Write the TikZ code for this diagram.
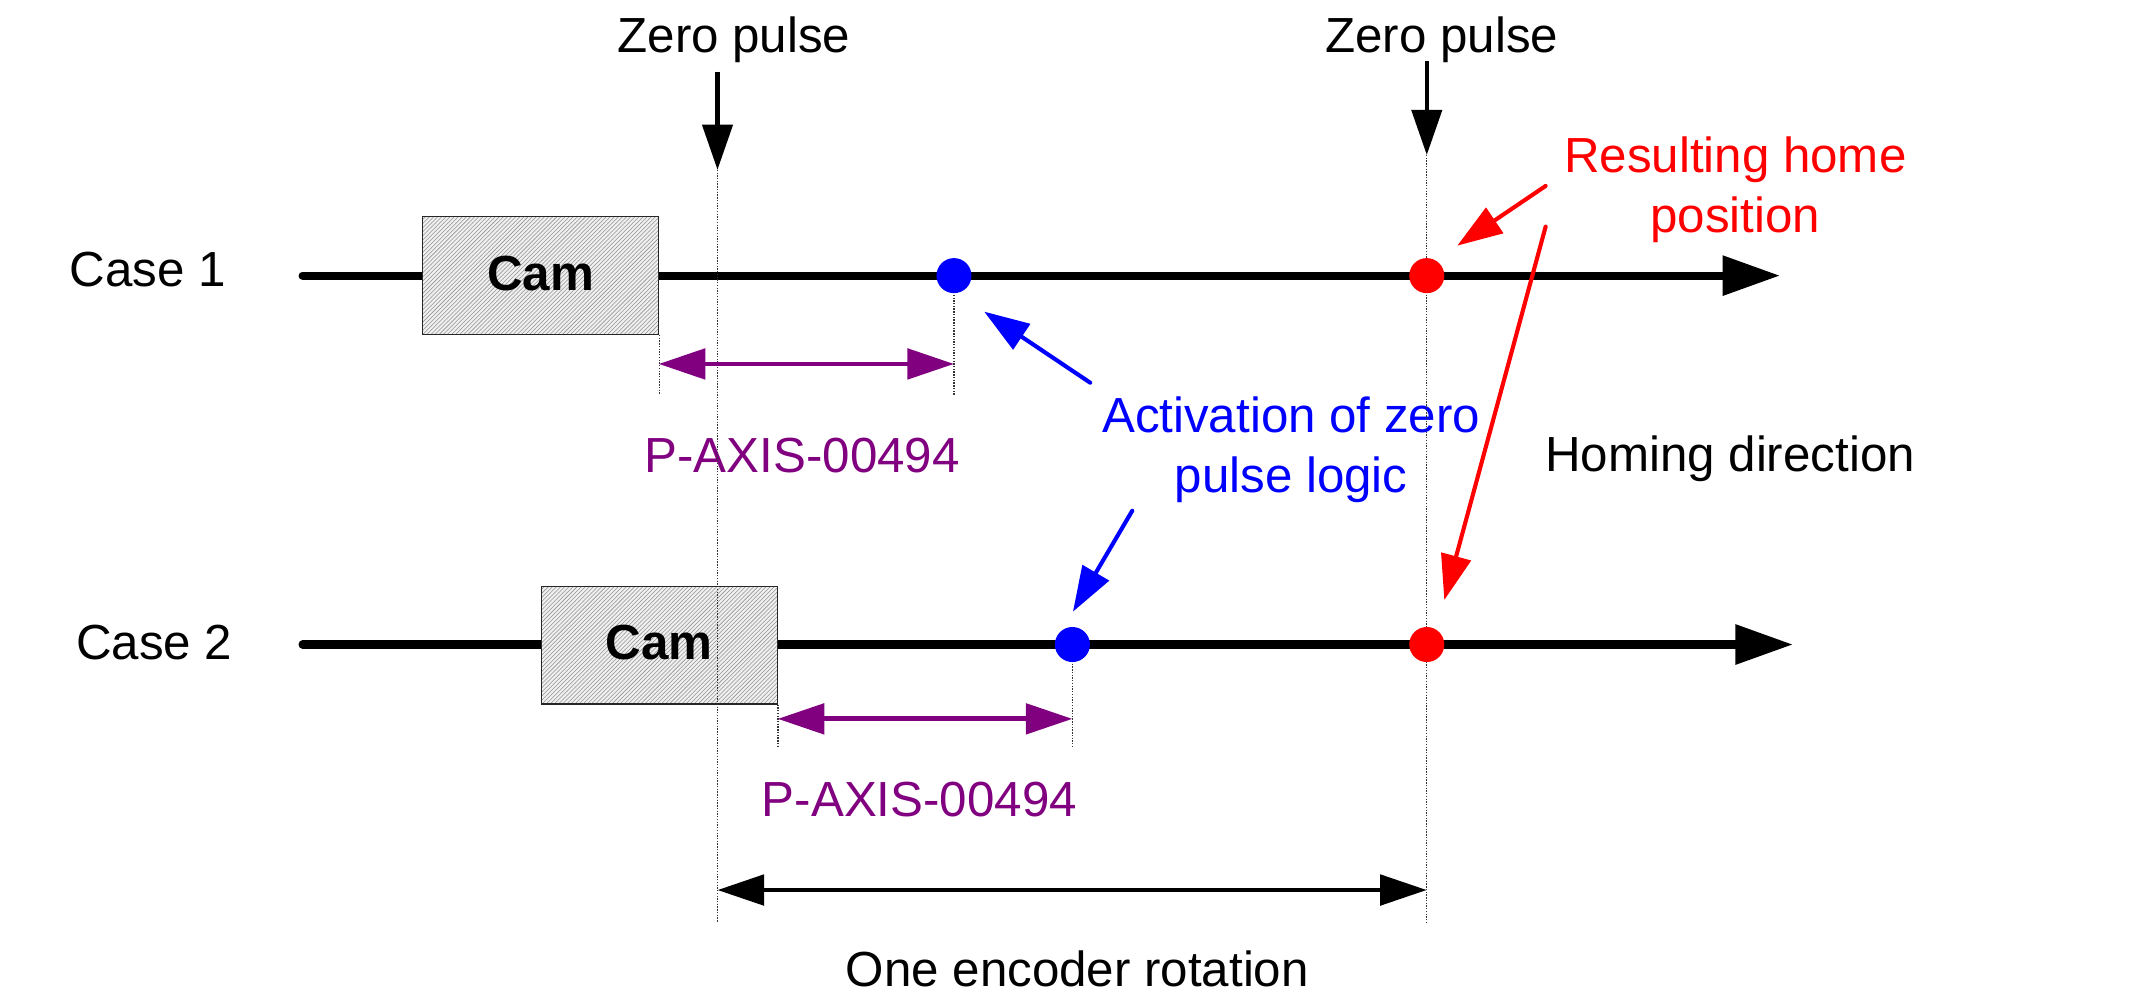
\documentclass[tikz,border=0pt]{standalone}
\usepackage{fontspec}
\setmainfont{Liberation Sans}
\usetikzlibrary{arrows.meta,patterns}
\definecolor{mypurple}{RGB}{128,0,128}
\definecolor{myblue}{RGB}{0,0,255}
\definecolor{myred}{RGB}{255,0,0}
\begin{document}
\begin{tikzpicture}[x=1pt,y=-1pt,
  txt/.style={font=\fontsize{36}{43.6}\selectfont, inner sep=0pt},
  axisline/.style={line width=6pt, line cap=round, -{Triangle[length=42pt,width=28pt]}},
  cambox/.style={draw=black!85, line width=0.8pt, preaction={fill=gray!12},
     pattern=north east lines, pattern color=gray!85, inner sep=0pt,
     minimum width=172.7pt, minimum height=86pt,
     font=\fontsize{36}{40}\selectfont\bfseries, text height=21.2pt, text depth=0pt},
  dotline/.style={line width=0.9pt, draw=black!80, dash pattern=on 1pt off 1pt},
  zparrow/.style={line width=3pt, -{Triangle[length=33pt,width=22pt]}},
  dimarrow/.style={line width=3.5pt, {Triangle[length=34pt,width=22pt]}-{Triangle[length=34pt,width=22pt]}},
  callout/.style={line width=3pt, line cap=round, -{Triangle[length=33pt,width=22pt]}},
  spot/.style={circle, inner sep=0pt, minimum size=25.6pt, fill=#1}
]
\useasboundingbox (0,0) rectangle (1568,736);

% labels
\node[txt, anchor=base] (zp1) at (536,38.6) {Zero pulse};
\node[txt, anchor=base] (zp2) at (1053,38.6) {Zero pulse};
\node[txt, anchor=base west] (case1) at (50.5,208.9) {Case 1};
\node[txt, anchor=base west] (case2) at (55.4,482) {Case 2};
\node[txt, anchor=base, text=mypurple] (pax1) at (585.8,345) {P-AXIS-00494};
\node[txt, anchor=base, text=mypurple] (pax2) at (671.5,596.4) {P-AXIS-00494};
\node[txt, anchor=north, align=center, text=myblue] (act) at (943,289.7) {Activation of zero\\pulse logic};
\node[txt, anchor=north, align=center, text=myred] (res) at (1267.3,99.6) {Resulting home\\position};
\node[txt, anchor=base] (hom) at (1263.5,344.5) {Homing direction};
\node[txt, anchor=base] (enc) at (786.8,720.6) {One encoder rotation};

% coordinates
\coordinate (a1s) at (221,201.3);
\coordinate (a1e) at (1300,201.3);
\coordinate (a2s) at (221,470.7);
\coordinate (a2e) at (1309.4,470.7);
\coordinate (z1s) at (524,52.3);
\coordinate (z1e) at (524,124);
\coordinate (z2s) at (1042,44.5);
\coordinate (z2e) at (1042,113.2);
\coordinate (z1b) at (524,674);
\coordinate (z2b) at (1042,674);

% axes
\draw[axisline] (a1s) -- (a1e);
\draw[axisline] (a2s) -- (a2e);

% cams
\node[cambox] (cam1) at (394.75,201.2) {Cam};
\node[cambox] (cam2) at (481.5,471.15) {Cam};

% dots positions
\coordinate (b1) at (696.7,201.3);
\coordinate (b2) at (783.2,470.7);
\coordinate (r1) at (1042,201.3);
\coordinate (r2) at (1042,470.7);

% dotted lines
\draw[dotline] (z1e) -- (z1b);
\draw[dotline] (z2e) -- (z2b);
\draw[dotline] (cam1.south east) -- ++(0,43);
\draw[dotline] (b1) -- ++(0,87.2);
\draw[dotline] (cam2.south east) -- ++(0,32);
\draw[dotline] (b2) -- ++(0,75.3);

% dots
\node[spot=myblue] (bd1) at (b1) {};
\node[spot=myblue] (bd2) at (b2) {};
\node[spot=myred] (rd1) at (r1) {};
\node[spot=myred] (rd2) at (r2) {};

% zero pulse arrows
\draw[zparrow] (z1s) -- (z1e);
\draw[zparrow] (z2s) -- (z2e);

% dimension arrows
\coordinate (d1s) at (481.1,265.8);
\coordinate (d1e) at (696.7,265.8);
\coordinate (d2s) at (568,525);
\coordinate (d2e) at (783.2,525);
\coordinate (d3s) at (524,650);
\coordinate (d3e) at (1042,650);
\draw[dimarrow, draw=mypurple, fill=mypurple] (d1s) -- (d1e);
\draw[dimarrow, draw=mypurple, fill=mypurple] (d2s) -- (d2e);
\draw[dimarrow] (d3s) -- (d3e);

% callouts
\coordinate (bc1s) at (796.2,279.5);
\coordinate (bc1e) at (718.8,227.6);
\coordinate (bc2s) at (826.9,373);
\coordinate (bc2e) at (783.6,446.7);
\coordinate (rc1s) at (1128.8,135.8);
\coordinate (rc1e) at (1064.3,179.4);
\coordinate (rc2s) at (1128.8,165.5);
\coordinate (rc2e) at (1054.8,438.2);
\draw[callout, draw=myblue, fill=myblue] (bc1s) -- (bc1e);
\draw[callout, draw=myblue, fill=myblue] (bc2s) -- (bc2e);
\draw[callout, draw=myred, fill=myred] (rc1s) -- (rc1e);
\draw[callout, draw=myred, fill=myred] (rc2s) -- (rc2e);
\end{tikzpicture}
\end{document}
